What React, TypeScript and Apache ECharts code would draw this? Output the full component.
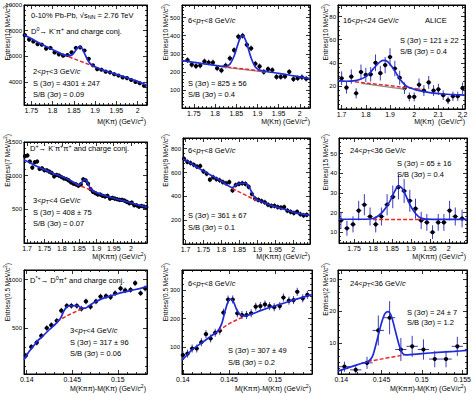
import React, { useEffect, useRef } from "react";
import * as echarts from "echarts";

const FONT = "'Liberation Sans', Arial, sans-serif";
const BLUE = "#1f2bd6";
const RED = "#e8262b";
const GREY = "#8a8a8a";
const ERR = "#3c3cc0";

// ---------- Panel 1: D0 -> K pi, 2<pT<3 ----------
const p1X = [1.735, 1.745, 1.755, 1.765, 1.775, 1.785, 1.795, 1.805, 1.815, 1.825, 1.835, 1.845, 1.855, 1.865, 1.875, 1.885, 1.895, 1.905, 1.915, 1.925, 1.935, 1.945, 1.955, 1.965, 1.975, 1.985, 1.995, 2.005, 2.015];
const p1Y = [7650, 7300, 7150, 6950, 6900, 6600, 6650, 6300, 6150, 6050, 6100, 6300, 6650, 6700, 6450, 5800, 5300, 5000, 4950, 4800, 4750, 4600, 4500, 4350, 4300, 4150, 4000, 3900, 3700];
const p1Err = 80;
const p1HalfBin = 0.005;
const p1Fit = [[1.733, 7680], [1.75, 7380], [1.77, 7020], [1.79, 6680], [1.81, 6370], [1.825, 6130], [1.835, 6050], [1.845, 6090], [1.852, 6340], [1.858, 6630], [1.864, 6760], [1.87, 6580], [1.876, 6160], [1.882, 5740], [1.888, 5450], [1.895, 5260], [1.905, 5110], [1.92, 4900], [1.94, 4690], [1.96, 4480], [1.98, 4270], [2.0, 4040], [2.022, 3720]];
const p1Bkg = [[1.825, 6130], [1.865, 5620], [1.905, 5110]];

// ---------- Panel 2: D0, 6<pT<8 ----------
const p2X = [1.735, 1.745, 1.755, 1.765, 1.775, 1.785, 1.795, 1.805, 1.815, 1.825, 1.835, 1.845, 1.855, 1.865, 1.875, 1.885, 1.895, 1.905, 1.915, 1.925, 1.935, 1.945, 1.955, 1.965, 1.975, 1.985, 1.995, 2.005, 2.015];
const p2Y = [265, 240, 232, 235, 258, 252, 252, 220, 208, 235, 275, 320, 395, 400, 350, 330, 245, 230, 200, 215, 210, 172, 172, 175, 200, 160, 165, 170, 162];
const p2Err = 16;
const p2HalfBin = 0.005;
const p2Fit = [[1.722, 262], [1.75, 252], [1.78, 243], [1.8, 236], [1.815, 231], [1.825, 231], [1.835, 243], [1.845, 288], [1.852, 339], [1.858, 380], [1.865, 400], [1.872, 376], [1.878, 332], [1.885, 278], [1.895, 227], [1.905, 210], [1.92, 202], [1.95, 192], [1.98, 180], [2.0, 172], [2.024, 163]];
const p2Bkg = [[1.815, 231], [1.865, 217], [1.91, 205]];
const p2Grey = [[1.815, 227], [1.92, 199]];

// ---------- Panel 3: D0, 16<pT<24 ----------
const p3X = [1.7, 1.72, 1.74, 1.76, 1.78, 1.8, 1.82, 1.84, 1.86, 1.88, 1.9, 1.92, 1.94, 1.96, 1.98, 2.0, 2.02, 2.04, 2.06, 2.08, 2.1, 2.12, 2.14, 2.16, 2.18, 2.2];
const p3Y = [26.6, 18.5, 28, 13.6, 32, 29.5, 30, 40, 31, 38, 45, 35, 27, 18, 10.5, 10.5, 21, 16, 23, 16, 17, 12, 7.5, 11, 11, 18];
const p3E = [6, 5.2, 6.2, 4.4, 6.5, 6.2, 6.2, 7.2, 6.3, 7, 7.6, 6.7, 6, 5, 3.8, 3.8, 5.4, 4.7, 5.6, 4.7, 4.8, 4.1, 3.3, 4, 4, 5];
const p3HalfBin = 0.01;
const p3Fit = [[1.685, 24.5], [1.72, 24], [1.75, 24.3], [1.775, 25.5], [1.8, 28], [1.82, 32], [1.84, 37], [1.86, 41], [1.875, 42], [1.89, 41], [1.91, 36], [1.93, 29.5], [1.95, 23.5], [1.97, 19.5], [2.0, 17], [2.03, 15.5], [2.07, 14], [2.12, 13], [2.17, 12.4], [2.21, 12]];
const p3Bkg = [[1.755, 23.5], [1.9, 20.2], [2.03, 17]];
const p3Grey = [[1.783, 22.2], [1.964, 17]];

// ---------- Panel 4: D+ -> K pi pi, 3<pT<4 ----------
const p4X = [1.694, 1.701, 1.708, 1.715, 1.722, 1.729, 1.736, 1.743, 1.75, 1.757, 1.764, 1.771, 1.778, 1.785, 1.792, 1.799, 1.806, 1.813, 1.82, 1.827, 1.834, 1.841, 1.848, 1.855, 1.862, 1.869, 1.876, 1.883, 1.89, 1.897, 1.904, 1.911, 1.918, 1.925, 1.932, 1.939, 1.946, 1.953, 1.96, 1.967, 1.974, 1.981, 1.988, 1.995, 2.002, 2.009, 2.016, 2.023, 2.03, 2.037, 2.044];
const p4Y = [1290, 1300, 1210, 1120, 1200, 1210, 1100, 1110, 1080, 1080, 1060, 1040, 990, 1010, 1000, 980, 960, 950, 930, 900, 880, 870, 850, 870, 945, 930, 880, 800, 760, 740, 720, 720, 700, 690, 700, 660, 670, 660, 650, 640, 640, 630, 610, 590, 600, 560, 560, 540, 550, 540, 530];
const p4Err = 32;
const p4HalfBin = 0.0035;
const p4Fit = [[1.691, 1235], [1.72, 1160], [1.75, 1090], [1.78, 1025], [1.81, 965], [1.835, 898], [1.848, 864], [1.855, 882], [1.86, 912], [1.866, 945], [1.871, 927], [1.877, 866], [1.883, 810], [1.89, 776], [1.9, 748], [1.92, 710], [1.95, 665], [1.98, 625], [2.01, 580], [2.046, 530]];
const p4Bkg = [[1.84, 876], [1.868, 820], [1.895, 762]];

// ---------- Panel 5: D+, 6<pT<8 ----------
const p5X = [1.696, 1.705, 1.714, 1.723, 1.732, 1.741, 1.75, 1.759, 1.768, 1.777, 1.786, 1.795, 1.804, 1.813, 1.822, 1.831, 1.84, 1.849, 1.858, 1.867, 1.876, 1.885, 1.894, 1.903, 1.912, 1.921, 1.93, 1.939, 1.948, 1.957, 1.966, 1.975, 1.984, 1.993, 2.002, 2.011, 2.02, 2.029, 2.038];
const p5Y = [715, 690, 680, 665, 650, 655, 610, 590, 540, 560, 545, 535, 520, 510, 520, 450, 495, 505, 510, 505, 480, 420, 380, 370, 360, 350, 330, 320, 320, 310, 305, 310, 280, 270, 260, 270, 250, 240, 245];
const p5Err = 22;
const p5HalfBin = 0.0045;
const p5Fit = [[1.693, 715], [1.72, 668], [1.75, 612], [1.78, 562], [1.805, 518], [1.82, 488], [1.83, 474], [1.838, 488], [1.845, 502], [1.855, 509], [1.865, 510], [1.872, 500], [1.878, 475], [1.885, 432], [1.892, 395], [1.9, 372], [1.915, 352], [1.94, 322], [1.97, 296], [2.0, 268], [2.047, 240]];
const p5Bkg = [[1.83, 466], [1.865, 414], [1.9, 362]];

// ---------- Panel 6: D+, 24<pT<36 ----------
const p6X = [1.715, 1.731, 1.747, 1.762, 1.777, 1.792, 1.807, 1.822, 1.837, 1.852, 1.867, 1.882, 1.897, 1.912, 1.927, 1.942, 1.957, 1.972, 1.987, 2.002, 2.017, 2.035];
const p6Y = [16, 12, 14, 21, 24, 18, 14, 18, 24, 28, 33, 31, 26, 22, 16, 15, 10, 15, 15, 21, 18, 17];
const p6E = [4.4, 3.8, 4.1, 5, 5.4, 4.6, 4.1, 4.6, 5.4, 5.8, 6.3, 6.1, 5.6, 5.1, 4.4, 4.3, 3.5, 4.3, 4.3, 5, 4.6, 4.5];
const p6HalfBin = 0.0075;
const p6Fit = [[1.71, 16.6], [1.78, 16.6], [1.8, 17], [1.815, 18.5], [1.83, 21.5], [1.845, 26], [1.857, 30.8], [1.867, 33.5], [1.877, 32.3], [1.888, 28], [1.9, 23], [1.912, 19.5], [1.925, 17.3], [1.94, 16.7], [2.048, 16.5]];
const p6Bkg = [[1.8, 16.5], [1.94, 16.5]];

// ---------- Panel 7: D*+ -> D0 pi, 3<pT<4 ----------
const p7X = [0.1399, 0.1405, 0.1411, 0.1416, 0.1422, 0.1427, 0.1433, 0.1438, 0.1444, 0.1449, 0.1455, 0.146, 0.1465, 0.147, 0.1476, 0.1481, 0.1487, 0.1492, 0.1497, 0.1503, 0.1508, 0.1514, 0.1519, 0.1525, 0.153];
const p7Y = [215, 305, 350, 420, 500, 530, 575, 680, 730, 730, 730, 700, 775, 720, 775, 825, 830, 820, 860, 910, 890, 895, 965, 860, 910];
const p7Err = 30;
const p7HalfBin = 0.00025;
const p7Fit = [[0.1397, 172], [0.1402, 250], [0.1407, 310], [0.1412, 368], [0.1418, 420], [0.1425, 485], [0.1432, 545], [0.1437, 600], [0.1441, 680], [0.1444, 720], [0.1448, 730], [0.1453, 732], [0.1457, 725], [0.146, 708], [0.1464, 705], [0.1468, 728], [0.1475, 768], [0.1485, 812], [0.1495, 842], [0.1505, 868], [0.1515, 890], [0.1525, 910], [0.1532, 928]];
const p7Bkg = [[0.1433, 569], [0.1447, 640], [0.146, 697]];

// ---------- Panel 8: D*+, 6<pT<8 ----------
const p8X = [0.14, 0.1405, 0.141, 0.1415, 0.142, 0.1425, 0.143, 0.1435, 0.144, 0.1444, 0.1449, 0.1454, 0.1459, 0.1464, 0.1469, 0.1474, 0.1479, 0.1484, 0.1489, 0.1494, 0.1499, 0.1505, 0.1509, 0.1515, 0.152, 0.1524, 0.153, 0.1535];
const p8Y = [73, 78, 96, 96, 118, 146, 131, 151, 158, 221, 267, 267, 219, 213, 213, 219, 242, 244, 250, 244, 240, 244, 274, 263, 265, 294, 271, 283];
const p8Err = 14;
const p8HalfBin = 0.00025;
const p8Fit = [[0.1399, 55], [0.1405, 75], [0.141, 92], [0.142, 115], [0.143, 138], [0.1438, 158], [0.1442, 182], [0.1446, 230], [0.1449, 260], [0.1452, 268], [0.1455, 258], [0.1458, 234], [0.1462, 214], [0.1467, 209], [0.1475, 217], [0.1485, 229], [0.1495, 240], [0.1505, 250], [0.1515, 260], [0.1525, 270], [0.154, 284]];
const p8Bkg = [[0.1438, 158], [0.1452, 186], [0.1467, 209]];

// ---------- Panel 9: D*+, 24<pT<36 ----------
const p9X = [0.1404, 0.1418, 0.1432, 0.1446, 0.146, 0.1474, 0.1488, 0.1502, 0.1516, 0.153, 0.1544];
const p9Y = [2.6, 1.6, 3.8, 14, 18, 8, 9, 8, 5, 5, 9];
const p9E = [1.6, 1.3, 1.9, 4.7, 5.2, 3.6, 3.3, 3.2, 2.6, 2.6, 3];
const p9HalfBin = 0.0007;
const p9Fit = [[0.1396, 1.2], [0.141, 2.4], [0.1425, 3.6], [0.1434, 4.3], [0.1439, 6], [0.1444, 10.5], [0.1449, 15.5], [0.1454, 19.2], [0.1458, 19.9], [0.1462, 18.6], [0.1467, 14], [0.1472, 9.2], [0.1476, 6.8], [0.148, 6.3], [0.15, 6.7], [0.152, 7.1], [0.154, 7.4], [0.1556, 7.7]];
const p9Bkg = [[0.1433, 4.2], [0.1456, 5.3], [0.1478, 6.3]];

// ---------- texts ----------
const pt = (lo: number, hi: number) => `{n|${lo}<}{i|p}{s|T}{n|<${hi} GeV/}{i|c}`;
const yTitle = (bin: string) => `{n|Entries/(${bin} MeV/}{i|c}{u|2}{n|)}`;
const xTitle = (m: string) => `{n|${m} (GeV/}{i|c}{u|2}{n|)}`;

const annotations: [number, number, string][] = [
  [31, 15, "{n|0-10% Pb-Pb, √}{n|s}{s|NN}{n| = 2.76 TeV}"],
  [31, 31, "{n|D}{u|0}{n|→ K}{u|-}{n|π}{u|+}{n| and charge conj.}"],
  [33, 71, pt(2, 3)],
  [33, 83, "{n|S (3σ) = 4301 ± 247}"],
  [33, 94, "{n|S/B (3σ) = 0.09}"],
  [188, 20, pt(6, 8)],
  [188, 83, "{n|S (3σ) = 825 ± 56}"],
  [188, 94, "{n|S/B (3σ) = 0.4}"],
  [343, 20, pt(16, 24)],
  [425, 20, "{n|ALICE}"],
  [400, 40, "{n|S (3σ) = 121 ± 22}"],
  [400, 51, "{n|S/B (3σ) = 0.4}"],
  [30, 148, "{n|D}{u|+}{n|→ K}{u|-}{n|π}{u|+}{n|π}{u|+}{n| and charge conj.}"],
  [33, 200, pt(3, 4)],
  [33, 212, "{n|S (3σ) = 408 ± 75}"],
  [33, 223, "{n|S/B (3σ) = 0.07}"],
  [188, 150, pt(6, 8)],
  [188, 215, "{n|S (3σ) = 361 ± 67}"],
  [188, 227, "{n|S/B (3σ) = 0.1}"],
  [350, 150, pt(24, 36)],
  [397, 163, "{n|S (3σ) = 65 ± 16}"],
  [397, 174, "{n|S/B (3σ) = 0.4}"],
  [30, 280, "{n|D}{u|*+}{n|→ D}{u|0}{n|π}{u|+}{n| and charge conj.}"],
  [70, 330, pt(3, 4)],
  [70, 342, "{n|S (3σ) = 317 ± 96}"],
  [70, 353, "{n|S/B (3σ) = 0.06}"],
  [188, 283, pt(6, 8)],
  [228, 350, "{n|S (3σ) = 307 ± 49}"],
  [228, 362, "{n|S/B (3σ) = 0.2}"],
  [350, 283, pt(24, 36)],
  [407, 312, "{n|S (3σ) = 24 ± 7}"],
  [407, 322, "{n|S/B (3σ) = 1.2}"],
];

const yTitles: [number, number, string][] = [
  [7, 4, "10"], [165, 4, "10"], [325, 4, "10"],
  [7, 134, "7"], [165, 134, "9"], [325, 134, "15"],
  [7, 263, "0.5"], [165, 263, "0.5"], [325, 263, "2"],
];

const xTitles: [number, number, string][] = [
  [146, 121, "M(Kπ)"], [310, 121, "M(Kπ)"], [465, 121, "M(Kπ) "],
  [146, 256, "M(Kππ)"], [310, 256, "M(Kππ)"], [466, 256, "M(Kππ)"],
  [146, 388, "M(Kππ)-M(Kπ)"], [311, 388, "M(Kππ)-M(Kπ)"], [466, 388, "M(Kππ)-M(Kπ)"],
];

const pts = (xs: number[], ys: number[], err: number | number[], half: number) =>
  xs.map((x, i) => [x, ys[i], Array.isArray(err) ? err[i] : err, half]);

const panels = [
  { g: [24, 5, 123, 100], x: [1.733, 2.022, 0.05], y: [2200, 10000, 2000], d: pts(p1X, p1Y, p1Err, p1HalfBin), fit: p1Fit, bkg: p1Bkg, grey: null as null | number[][] },
  { g: [182, 5, 128, 103], x: [1.722, 2.024, 0.05], y: [0, 570, 100], d: pts(p2X, p2Y, p2Err, p2HalfBin), fit: p2Fit, bkg: p2Bkg, grey: p2Grey },
  { g: [338, 5, 127, 104], x: [1.685, 2.21, 0.1], y: [0, 90, 20], d: pts(p3X, p3Y, p3E, p3HalfBin), fit: p3Fit, bkg: p3Bkg, grey: p3Grey },
  { g: [24, 142, 123, 101], x: [1.691, 2.046, 0.05], y: [0, 1500, 500], d: pts(p4X, p4Y, p4Err, p4HalfBin), fit: p4Fit, bkg: p4Bkg, grey: null },
  { g: [183, 138, 127, 106], x: [1.693, 2.047, 0.05], y: [0, 890, 200], d: pts(p5X, p5Y, p5Err, p5HalfBin), fit: p5Fit, bkg: p5Bkg, grey: null },
  { g: [339, 138, 128, 105], x: [1.71, 2.048, 0.05], y: [4.5, 58, 10], d: pts(p6X, p6Y, p6E, p6HalfBin), fit: p6Fit, bkg: p6Bkg, grey: null },
  { g: [24, 270, 123, 104], x: [0.1397, 0.1532, 0.005], y: [25, 1100, 500], d: pts(p7X, p7Y, p7Err, p7HalfBin), fit: p7Fit, bkg: p7Bkg, grey: null },
  { g: [182, 270, 130, 104], x: [0.1399, 0.154, 0.005], y: [7, 370, 100], d: pts(p8X, p8Y, p8Err, p8HalfBin), fit: p8Fit, bkg: p8Bkg, grey: null },
  { g: [338, 270, 129, 104], x: [0.1396, 0.1556, 0.005], y: [0.3, 33, 10], d: pts(p9X, p9Y, p9E, p9HalfBin), fit: p9Fit, bkg: p9Bkg, grey: null },
];

function rich(size: number) {
  const sub = size * 0.72;
  const off = size * 0.45;
  return {
    n: { fontSize: size, fontFamily: FONT, fill: "#000" },
    i: { fontSize: size, fontFamily: FONT, fontStyle: "italic", fill: "#000" },
    s: { fontSize: sub, fontFamily: FONT, fill: "#000", padding: [off, 0, 0, 0], verticalAlign: "bottom" },
    u: { fontSize: sub, fontFamily: FONT, fill: "#000", padding: [0, 0, off, 0], verticalAlign: "top" },
  };
}

function textEl(x: number, y: number, text: string, size: number, align: string, rotation = 0) {
  return {
    type: "text",
    x,
    y,
    rotation,
    silent: true,
    z: 100,
    style: {
      text,
      rich: rich(size),
      fontSize: size,
      fontFamily: FONT,
      fill: "#000",
      align,
      textAlign: align,
      verticalAlign: "middle",
      textVerticalAlign: "middle",
      legacy: false,
    },
  };
}

const fmt = (v: number) => String(parseFloat(Number(v).toFixed(6)));
const isMult = (v: number, step: number) => Math.abs(v / step - Math.round(v / step)) < 1e-6;

function axis(gi: number, r: number[], labelled: boolean, position: string, fontSize: number, margin: number) {
  const [min, max, step] = r;
  return {
    type: "value",
    gridIndex: gi,
    position,
    min,
    max,
    minInterval: step,
    maxInterval: step,
    splitNumber: Math.max(1, Math.round((max - min) / step)),
    silent: true,
    splitLine: { show: false },
    axisLine: { show: true, onZero: false, lineStyle: { color: "#000", width: 1 } },
    axisTick: { show: true, inside: true, length: 4, lineStyle: { color: "#000", width: 0.8 } },
    minorTick: { show: true, splitNumber: 5, length: 2, lineStyle: { color: "#000", width: 0.8 } },
    minorSplitLine: { show: false },
    axisLabel: {
      show: labelled,
      fontSize,
      fontFamily: FONT,
      color: "#000",
      margin,
      showMinLabel: false,
      showMaxLabel: isMult(max, step),
      formatter: fmt,
    },
  };
}

function buildOption() {
  const grid: any[] = [];
  const xAxis: any[] = [];
  const yAxis: any[] = [];
  const series: any[] = [];
  panels.forEach((p, i) => {
    const [l, t, w, h] = p.g;
    grid.push({ left: l, top: t, width: w, height: h, show: true, borderColor: "#000", borderWidth: 1, backgroundColor: "transparent", containLabel: false, outerBoundsMode: "none" });
    xAxis.push(axis(i, p.x, true, "bottom", 7, 1.5));
    xAxis.push(axis(i, p.x, false, "top", 7, 1.5));
    yAxis.push(axis(i, p.y, true, "left", 6, 2));
    yAxis.push(axis(i, p.y, false, "right", 6, 2));
    const xi = 2 * i;
    series.push({
      type: "custom",
      xAxisIndex: xi,
      yAxisIndex: xi,
      silent: true,
      z: 2,
      encode: { x: 0, y: 1 },
      data: p.d,
      renderItem: (_params: any, api: any) => {
        const x = api.value(0);
        const y = api.value(1);
        const ey = api.value(2);
        const ex = api.value(3);
        const c = api.coord([x, y]);
        const top = api.coord([x, y + ey]);
        const bot = api.coord([x, y - ey]);
        const lft = api.coord([x - ex, y]);
        const rgt = api.coord([x + ex, y]);
        return {
          type: "group",
          children: [
            { type: "line", shape: { x1: c[0], y1: top[1], x2: c[0], y2: bot[1] }, style: { stroke: ERR, lineWidth: 1 } },
            { type: "line", shape: { x1: lft[0], y1: c[1], x2: rgt[0], y2: c[1] }, style: { stroke: ERR, lineWidth: 1 } },
            { type: "circle", shape: { cx: c[0], cy: c[1], r: 2.1 }, style: { fill: "#000" } },
          ],
        };
      },
    });
    if (p.grey) {
      series.push({ type: "line", xAxisIndex: xi, yAxisIndex: xi, data: p.grey, showSymbol: false, silent: true, z: 3, lineStyle: { color: GREY, width: 1.2 } });
    }
    series.push({ type: "line", xAxisIndex: xi, yAxisIndex: xi, data: p.bkg, showSymbol: false, silent: true, z: 4, lineStyle: { color: RED, width: 1.5, type: [4, 2] } });
    series.push({ type: "line", xAxisIndex: xi, yAxisIndex: xi, data: p.fit, showSymbol: false, silent: true, smooth: 0.3, z: 5, lineStyle: { color: BLUE, width: 1.7 } });
  });

  const elements: any[] = [];
  annotations.forEach(([x, y, t]) => elements.push(textEl(x, y, t, 7.5, "left")));
  yTitles.forEach(([x, y, b]) => elements.push(textEl(x, y, yTitle(b), 6.5, "right", Math.PI / 2)));
  xTitles.forEach(([x, y, m]) => elements.push(textEl(x, y, xTitle(m), 7, "right")));

  return {
    animation: false,
    backgroundColor: "#fff",
    grid,
    xAxis,
    yAxis,
    series,
    graphic: { elements },
  };
}

export default function App() {
  const ref = useRef<HTMLDivElement>(null);
  useEffect(() => {
    document.body.style.margin = "0";
    const chart = echarts.init(ref.current!, null, { renderer: "svg" });
    chart.setOption(buildOption() as any);
    return () => chart.dispose();
  }, []);
  return <div ref={ref} style={{ position: "absolute", left: 0, top: 0, width: 474, height: 395, background: "#fff" }} />;
}
